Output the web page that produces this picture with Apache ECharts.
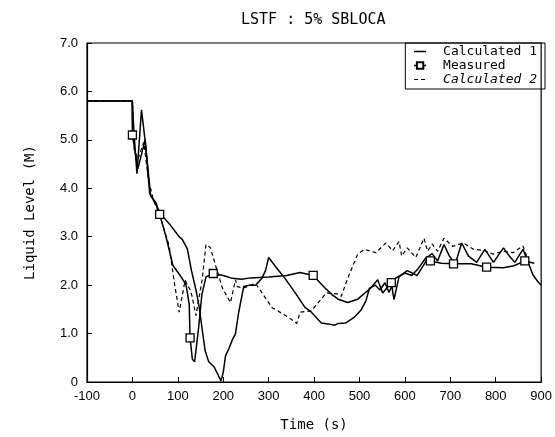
<!DOCTYPE html>
<html>
<head>
<meta charset="utf-8">
<script src="https://cdn.jsdelivr.net/npm/echarts@6/dist/echarts.min.js"></script>
<style>
  html, body { margin: 0; padding: 0; background: #fff; }
  #chart { width: 555px; height: 437px; }
</style>
</head>
<body>
<div id="chart"></div>
<script>
// values (time in s, level in m)
const calc1T = [-100, 0, 3, 10, 20, 29, 38, 52, 63, 81, 103, 110, 121, 130, 140, 147, 152, 160, 168, 180, 190, 195, 200, 205, 213, 220, 227, 234, 245, 258, 271, 285, 293, 300, 318, 336, 360, 380, 391, 416, 431, 445, 453, 470, 489, 503, 514, 522, 535, 545, 556, 565, 580, 600, 615, 630, 645, 660, 672, 686, 698, 711, 725, 740, 758, 776, 795, 817, 830, 842, 860, 872, 882, 893, 900];
const calc1V = [5.8, 5.8, 5.2, 4.3, 5.62, 4.9, 3.9, 3.65, 3.46, 3.27, 3.0, 2.94, 2.75, 2.3, 1.9, 1.55, 1.2, 0.65, 0.42, 0.31, 0.12, 0.02, 0.2, 0.54, 0.7, 0.87, 1.0, 1.44, 1.97, 2.0, 2.0, 2.14, 2.3, 2.57, 2.35, 2.14, 1.82, 1.54, 1.47, 1.22, 1.2, 1.17, 1.21, 1.22, 1.34, 1.48, 1.67, 1.94, 2.0, 1.9, 2.05, 1.85, 2.15, 2.25, 2.2, 2.35, 2.55, 2.65, 2.5, 2.84, 2.6, 2.44, 2.87, 2.6, 2.47, 2.74, 2.47, 2.77, 2.6, 2.47, 2.74, 2.45, 2.21, 2.07, 2.0];

const measT = [-100, -1, 0, 12, 28, 40, 52, 60, 74, 89, 105, 118, 125, 127, 132, 137, 146, 153, 162, 178, 200, 220, 240, 260, 300, 340, 369, 398, 424, 440, 453, 474, 496, 525, 540, 551, 570, 576, 587, 605, 627, 649, 656, 680, 707, 746, 780, 817, 840, 864, 885];
const measV = [5.8, 5.8, 5.1, 4.4, 5.0, 3.85, 3.7, 3.46, 3.0, 2.41, 2.2, 2.01, 1.61, 0.91, 0.47, 0.42, 1.14, 1.81, 2.17, 2.24, 2.2, 2.14, 2.12, 2.15, 2.17, 2.2, 2.26, 2.2, 1.94, 1.8, 1.71, 1.64, 1.71, 1.94, 2.11, 1.84, 2.05, 1.7, 2.17, 2.3, 2.2, 2.53, 2.5, 2.45, 2.44, 2.44, 2.37, 2.36, 2.4, 2.5, 2.45];
// times where the measured curve carries a square marker
const measMarkT = [0, 60, 127, 178, 398, 570, 656, 707, 780, 864];

const calc2T = [-100, 0, 4, 12, 25, 35, 45, 60, 81, 92, 103, 114, 116, 129, 140, 144, 154, 162, 172, 183, 198, 216, 227, 231, 245, 271, 307, 343, 362, 369, 394, 427, 451, 460, 474, 496, 511, 536, 558, 573, 587, 593, 605, 624, 642, 650, 660, 672, 686, 705, 729, 751, 773, 795, 816, 838, 860, 868];
const calc2V = [5.8, 5.8, 4.8, 4.6, 4.95, 4.2, 3.8, 3.45, 2.81, 2.07, 1.44, 2.0, 2.1, 1.87, 1.37, 1.4, 2.14, 2.84, 2.77, 2.41, 1.94, 1.64, 2.11, 1.97, 1.94, 2.04, 1.54, 1.34, 1.21, 1.44, 1.47, 1.84, 1.82, 1.77, 2.14, 2.64, 2.74, 2.67, 2.87, 2.71, 2.9, 2.6, 2.77, 2.57, 2.97, 2.7, 2.85, 2.7, 2.97, 2.8, 2.87, 2.74, 2.72, 2.64, 2.7, 2.67, 2.81, 2.6];

const xTicks = [-100, 0, 100, 200, 300, 400, 500, 600, 700, 800, 900];
const yTicks = [0, 1, 2, 3, 4, 5, 6, 7];

function pairs(t, v) {
  return t.map((x, i) => [x, v[i]]);
}

let measData = measT.map((x, i) => {
  if (measMarkT.indexOf(x) >= 0) return { value: [x, measV[i]] };
  return { value: [x, measV[i]], symbol: 'none' };
});

let chart = echarts.init(document.getElementById('chart'));
let mono = 'DejaVu Sans Mono';

let option = {
  animation: false,
  backgroundColor: '#fff',
  title: {
    text: 'LSTF : 5% SBLOCA',
    left: 236,
    top: 8,
    textStyle: { fontFamily: mono, fontSize: 15, fontWeight: 'normal', color: '#000' }
  },
  legend: {
    right: 10,
    top: 43,
    orient: 'vertical',
    padding: [2, 8, 3, 8],
    itemGap: 1,
    itemWidth: 12,
    itemHeight: 8,
    borderColor: '#000',
    borderWidth: 1,
    borderRadius: 0,
    textStyle: { fontFamily: mono, fontSize: 13, color: '#000', padding: [0, 0, 0, 12] },
    data: [
      { name: 'Calculated 1', itemStyle: { opacity: 0 }, lineStyle: { color: '#000', width: 1.5 } },
      { name: 'Measured', lineStyle: { color: '#000', width: 1.5 } },
      {
        name: 'Calculated 2',
        itemStyle: { opacity: 0 },
        lineStyle: { color: '#000', width: 1.2, type: [4, 3] },
        textStyle: { fontStyle: 'italic' }
      }
    ]
  },
  grid: {
    left: 87,
    right: 10,
    top: 43,
    bottom: 49,
    show: true,
    borderColor: '#000',
    borderWidth: 1.2
  },
  xAxis: {
    type: 'value',
    min: -100,
    max: 900,
    interval: 100,
    name: 'Time (s)',
    nameLocation: 'middle',
    nameGap: 36,
    nameTextStyle: { fontFamily: mono, fontSize: 14, color: '#000' },
    axisLine: { onZero: false, lineStyle: { color: '#000', width: 1.2 } },
    axisTick: { inside: true, length: 5, lineStyle: { color: '#000' } },
    splitLine: { show: false },
    axisLabel: {
      margin: 8,
      color: '#000',
      fontFamily: 'Liberation Sans',
      fontSize: 13,
      formatter: v => xTicks.indexOf(v) >= 0 ? String(v) : ''
    }
  },
  yAxis: {
    type: 'value',
    min: 0,
    max: 7,
    interval: 1,
    name: 'Liquid Level (M)',
    nameLocation: 'middle',
    nameGap: 50,
    nameTextStyle: { fontFamily: mono, fontSize: 14, color: '#000' },
    axisLine: { show: true, onZero: false, lineStyle: { color: '#000', width: 1.2 } },
    axisTick: { show: true, inside: true, length: 5, lineStyle: { color: '#000' } },
    splitLine: { show: false },
    axisLabel: {
      margin: 9,
      color: '#000',
      fontFamily: 'Liberation Sans',
      fontSize: 13,
      formatter: v => yTicks.indexOf(v) < 0 ? '' : (v === 0 ? '0' : v.toFixed(1))
    }
  },
  series: [
    {
      name: 'Calculated 1',
      type: 'line',
      data: pairs(calc1T, calc1V),
      symbol: 'none',
      lineStyle: { color: '#000', width: 1.5 },
      itemStyle: { color: '#000' }
    },
    {
      name: 'Measured',
      type: 'line',
      data: measData,
      symbol: 'rect',
      symbolSize: 8,
      showAllSymbol: true,
      lineStyle: { color: '#000', width: 1.5 },
      itemStyle: { color: '#fff', borderColor: '#000', borderWidth: 1.3 }
    },
    {
      name: 'Calculated 2',
      type: 'line',
      data: pairs(calc2T, calc2V),
      symbol: 'none',
      lineStyle: { color: '#000', width: 1.2, type: [4, 3] },
      itemStyle: { color: '#000' }
    }
  ]
};
chart.setOption(option);
</script>
</body>
</html>
